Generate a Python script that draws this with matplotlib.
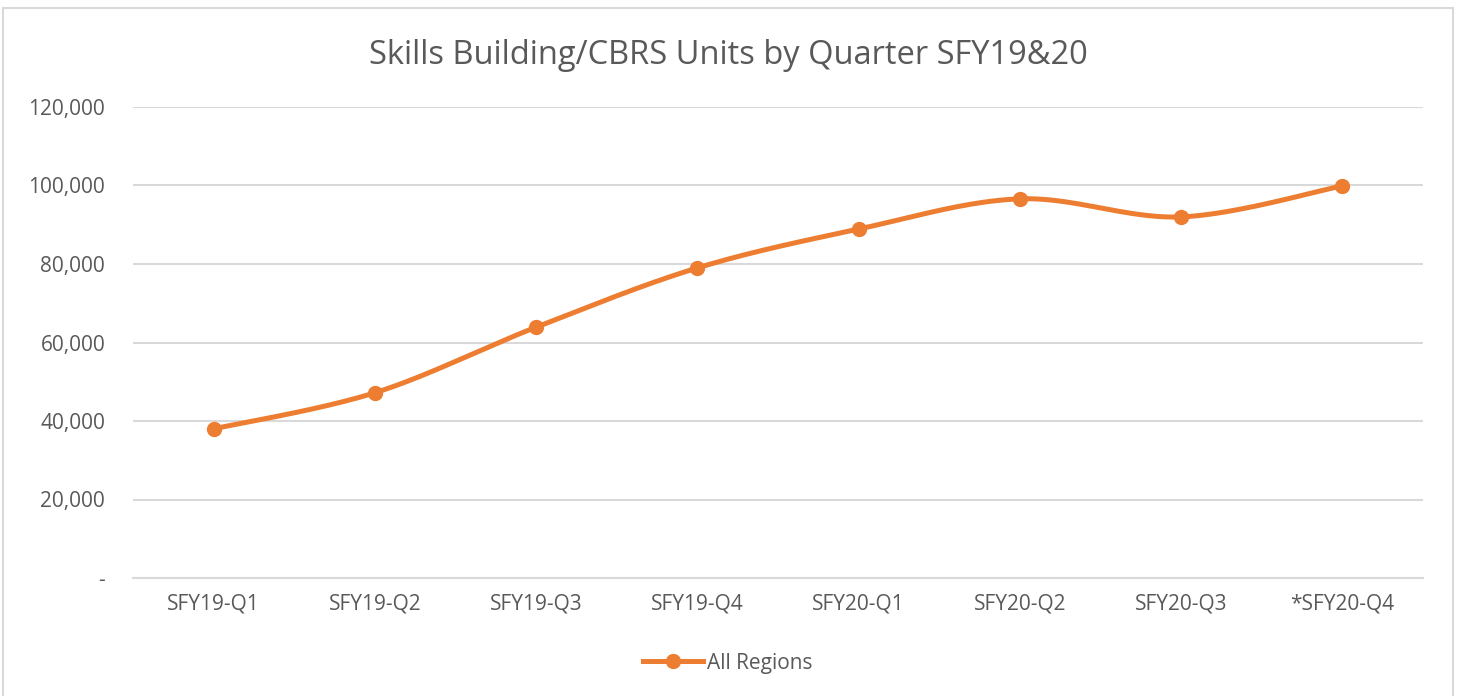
import numpy as np
import matplotlib.pyplot as plt
from matplotlib.patches import Rectangle
from matplotlib.lines import Line2D
from matplotlib.ticker import FuncFormatter

quarters = ['SFY19-Q1', 'SFY19-Q2', 'SFY19-Q3', 'SFY19-Q4',
            'SFY20-Q1', 'SFY20-Q2', 'SFY20-Q3', '*SFY20-Q4']
units = [38000, 47200, 63900, 79000, 88900, 96600, 92000, 99900]

orange = '#ED7D31'
gray_text = '#595959'
grid_gray = '#D9D9D9'

plt.rcParams['font.family'] = ['Open Sans', 'DejaVu Sans']


def smooth(xs, ys, n=40):
    # Excel style bezier smoothing (catmull-rom, tension 1/6)
    px = np.concatenate([[xs[0]], xs, [xs[-1]]])
    py = np.concatenate([[ys[0]], ys, [ys[-1]]])
    outx, outy = [], []
    t = np.linspace(0, 1, n)
    for i in range(1, len(px) - 2):
        p0 = np.array([px[i], py[i]])
        p3 = np.array([px[i + 1], py[i + 1]])
        p1 = p0 + (np.array([px[i + 1], py[i + 1]]) - np.array([px[i - 1], py[i - 1]])) / 6
        p2 = p3 - (np.array([px[i + 2], py[i + 2]]) - np.array([px[i], py[i]])) / 6
        b = ((1 - t) ** 3)[:, None] * p0 + (3 * (1 - t) ** 2 * t)[:, None] * p1 \
            + (3 * (1 - t) * t ** 2)[:, None] * p2 + (t ** 3)[:, None] * p3
        outx.extend(b[:, 0])
        outy.extend(b[:, 1])
    return np.array(outx), np.array(outy)


fig = plt.figure(figsize=(14.6, 6.96), dpi=100)
fig.patches.append(Rectangle((3 / 1460, -0.05), 1450 / 1460, 1.05 - 8 / 696,
                             transform=fig.transFigure, fill=False,
                             edgecolor=grid_gray, linewidth=1.5))

ax = fig.add_axes([133 / 1460, 1 - 578 / 696, 1290 / 1460, 471 / 696])
x = np.arange(len(quarters), dtype=float)
sx, sy = smooth(x, np.array(units, dtype=float))
ax.plot(sx, sy, color=orange, linewidth=3.6, solid_capstyle='round', zorder=3)
ax.plot(x, units, 'o', color=orange, markersize=10, zorder=4)

ax.set_xlim(-0.5, len(quarters) - 0.5)
ax.set_ylim(0, 120000)
ax.set_yticks(np.arange(0, 120001, 20000))
ax.yaxis.set_major_formatter(FuncFormatter(lambda v, p: '-' if v == 0 else f'{int(v):,}'))
ax.set_xticks(x)
ax.set_xticklabels(quarters)
ax.tick_params(length=0, labelsize=15, colors=gray_text)
ax.tick_params(axis='y', pad=20)
ax.tick_params(axis='x', pad=11)
ax.grid(axis='y', color=grid_gray, linewidth=1.5)
ax.set_axisbelow(True)
for s in ['top', 'right', 'left']:
    ax.spines[s].set_visible(False)
ax.spines['bottom'].set_color(grid_gray)
ax.spines['bottom'].set_linewidth(1.5)

fig.text(0.4986, 1 - 55 / 696, 'Skills Building/CBRS Units by Quarter SFY19&20',
         ha='center', va='center', fontsize=23.5, color=gray_text)

handle = Line2D([], [], color=orange, linewidth=3.6, marker='o', markersize=10)
fig.legend([handle], ['All Regions'], loc='center', bbox_to_anchor=(0.4986, 1 - 663 / 696),
           frameon=False, fontsize=15, labelcolor=gray_text, handlelength=2.9,
           handletextpad=0.2)

fig.savefig('out.png', dpi=100, facecolor='white')
